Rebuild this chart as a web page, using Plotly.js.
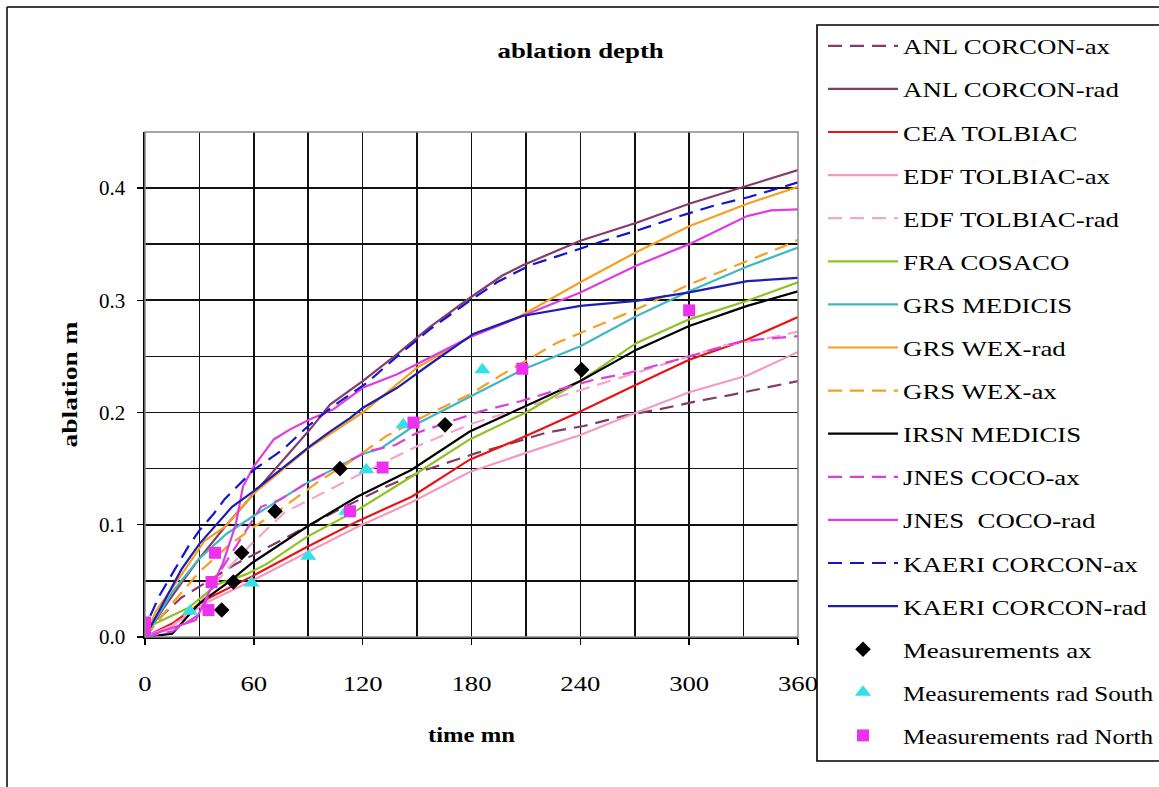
<!DOCTYPE html>
<html>
<head>
<meta charset="utf-8">
<script src="https://cdn.plot.ly/plotly-3.0.1.min.js"></script>
<style>
html,body{margin:0;padding:0;background:#fff;}
#chart{width:1159px;height:787px;}
</style>
</head>
<body>
<div id="chart"></div>
<script>
// ---- data (time in minutes, ablation in m) ----
const anlAxT  = [0, 10, 20, 35, 50, 76, 105, 133, 155, 183, 199, 221, 242, 264, 284, 304, 324, 345, 360];
const anlAxV  = [0, 0.02, 0.035, 0.05, 0.065, 0.087, 0.112, 0.134, 0.149, 0.164, 0.171, 0.182, 0.188, 0.197, 0.203, 0.21, 0.216, 0.223, 0.228];

const anlRadT = [0, 10, 20, 30, 45, 60, 91, 102, 120, 139, 157, 179, 197, 208, 240, 271, 300, 332, 360];
const anlRadV = [0, 0.025, 0.048, 0.07, 0.1, 0.128, 0.185, 0.207, 0.228, 0.252, 0.276, 0.302, 0.322, 0.331, 0.353, 0.369, 0.386, 0.402, 0.416];

const ceaT    = [0, 15, 33, 59, 89, 117, 147, 179, 210, 240, 271, 300, 332, 360];
const ceaV    = [0, 0.012, 0.033, 0.054, 0.08, 0.103, 0.125, 0.158, 0.179, 0.201, 0.225, 0.247, 0.265, 0.285];

const edfAxT  = [0, 15, 33, 59, 89, 117, 147, 179, 210, 240, 271, 300, 332, 360];
const edfAxV  = [0, 0.01, 0.03, 0.05, 0.075, 0.098, 0.12, 0.147, 0.164, 0.18, 0.2, 0.218, 0.233, 0.254];

const edfRadT = [0, 15, 30, 45, 60, 77, 116, 150, 180, 210, 238, 270, 300, 320, 340, 360];
const edfRadV = [0, 0.01, 0.03, 0.06, 0.085, 0.111, 0.143, 0.17, 0.19, 0.205, 0.219, 0.235, 0.25, 0.26, 0.265, 0.272];

const fraT    = [0, 3, 24, 40, 56, 67, 89, 117, 147, 179, 210, 240, 271, 300, 332, 360];
const fraV    = [0, 0.01, 0.026, 0.047, 0.056, 0.065, 0.089, 0.113, 0.143, 0.176, 0.2, 0.228, 0.262, 0.283, 0.2995, 0.316];

const grsMedT = [0, 15, 30, 45, 60, 90, 120, 130, 150, 179, 208, 240, 271, 300, 332, 360];
const grsMedV = [0, 0.04, 0.07, 0.092, 0.108, 0.138, 0.163, 0.168, 0.19, 0.214, 0.238, 0.259, 0.286, 0.308, 0.33, 0.347];

const wexRadT = [0, 6, 19, 33, 44, 60, 90, 120, 150, 180, 207, 240, 271, 300, 332, 360];
const wexRadV = [0, 0.023, 0.053, 0.086, 0.098, 0.128, 0.168, 0.2, 0.24, 0.268, 0.286, 0.316, 0.343, 0.366, 0.386, 0.401];

const wexAxT  = [0, 15, 30, 45, 60, 74, 97, 112, 133, 158, 179, 197, 227, 240, 271, 300, 332, 352, 360];
const wexAxV  = [0, 0.03, 0.058, 0.08, 0.098, 0.113, 0.14, 0.155, 0.179, 0.2, 0.216, 0.234, 0.262, 0.271, 0.292, 0.314, 0.335, 0.348, 0.354];

const irsnT   = [0, 15, 30, 47, 59, 89, 117, 147, 179, 210, 240, 271, 300, 332, 360];
const irsnV   = [0, 0.003, 0.03, 0.05, 0.066, 0.098, 0.125, 0.149, 0.183, 0.206, 0.228, 0.256, 0.277, 0.295, 0.308];

const jnesAxT = [0, 15, 30, 42, 53, 64, 74, 89, 122, 138, 150, 185, 207, 225, 247, 266, 300, 330, 360];
const jnesAxV = [0, 0.005, 0.02, 0.06, 0.088, 0.116, 0.122, 0.137, 0.165, 0.171, 0.182, 0.201, 0.21, 0.219, 0.229, 0.235, 0.25, 0.264, 0.268];

const jnesRadT = [0, 15, 28, 36, 43, 50, 54, 60, 71, 80, 91, 104, 120, 139, 157, 179, 208, 240, 271, 300, 332, 345, 360];
const jnesRadV = [0, 0.008, 0.015, 0.042, 0.066, 0.1, 0.134, 0.152, 0.176, 0.185, 0.194, 0.203, 0.222, 0.234, 0.249, 0.267, 0.286, 0.307, 0.331, 0.35, 0.375, 0.38, 0.381];

const kaeriAxT = [0, 3, 8, 15, 24, 30, 38, 44, 60, 76, 90, 104, 122, 139, 157, 179, 194, 212, 234, 253, 273, 293, 313, 333, 360];
const kaeriAxV = [0, 0.019, 0.037, 0.056, 0.081, 0.095, 0.11, 0.123, 0.149, 0.167, 0.188, 0.206, 0.226, 0.25, 0.274, 0.2995, 0.316, 0.331, 0.343, 0.353, 0.363, 0.374, 0.384, 0.392, 0.405];

const kaeriRadT = [0, 10, 20, 30, 48, 60, 91, 102, 113, 120, 139, 157, 181, 208, 240, 271, 300, 332, 360];
const kaeriRadV = [0, 0.03, 0.06, 0.083, 0.116, 0.13, 0.17, 0.183, 0.195, 0.204, 0.222, 0.243, 0.27, 0.286, 0.295, 0.2995, 0.307, 0.317, 0.32];

const measAxT = [42.3, 48.7, 53.3, 71.7, 107.5, 165.4, 240.7];
const measAxV = [0.024, 0.049, 0.075, 0.112, 0.15, 0.189, 0.238];

const measSouthT = [0, 24.8, 58.8, 90, 111, 122, 142.4, 186];
const measSouthV = [0.005, 0.023, 0.048, 0.072, 0.112, 0.149, 0.189, 0.238];

const measNorthT = [0, 0, 35, 36.7, 38.6, 113, 131, 148, 208, 300];
const measNorthV = [0.004, 0.013, 0.024, 0.049, 0.075, 0.112, 0.151, 0.191, 0.239, 0.291];

const seriesNames = ["ANL CORCON-ax", "ANL CORCON-rad", "CEA TOLBIAC", "EDF TOLBIAC-ax", "EDF TOLBIAC-rad",
  "FRA COSACO", "GRS MEDICIS", "GRS WEX-rad", "GRS WEX-ax", "IRSN MEDICIS", "JNES COCO-ax", "JNES  COCO-rad",
  "KAERI CORCON-ax", "KAERI CORCON-rad", "Measurements ax", "Measurements rad South", "Measurements rad North"];

// ---- styles ----
const DASH = "14px,8px";
const lineSpecs = [
  [anlAxT, anlAxV, "#843C64", DASH],
  [anlRadT, anlRadV, "#843C6C", "solid"],
  [ceaT, ceaV, "#E81414", "solid"],
  [edfAxT, edfAxV, "#F49AC1", "solid"],
  [edfRadT, edfRadV, "#F4A6C8", DASH],
  [fraT, fraV, "#8FC21F", "solid"],
  [grsMedT, grsMedV, "#40B7C4", "solid"],
  [wexRadT, wexRadV, "#F5A020", "solid"],
  [wexAxT, wexAxV, "#F5A020", DASH],
  [irsnT, irsnV, "#000000", "solid"],
  [jnesAxT, jnesAxV, "#DD3FDD", DASH],
  [jnesRadT, jnesRadV, "#E03CE0", "solid"],
  [kaeriAxT, kaeriAxV, "#1414D2", DASH],
  [kaeriRadT, kaeriRadV, "#1E1EB0", "solid"]
];

const traces = [];
lineSpecs.forEach((s, i) => {
  traces.push({
    x: s[0], y: s[1], name: seriesNames[i], type: "scatter", mode: "lines",
    line: {color: s[2], width: 2.2, dash: s[3]},
    legendgroup: "g" + i
  });
});
const markerSpecs = [
  [measAxT, measAxV, "#000000", "diamond", 12],
  [measSouthT, measSouthV, "#33E0EA", "triangle-up", 14],
  [measNorthT, measNorthV, "#F030F0", "square", 12]
];
markerSpecs.forEach((s, j) => {
  traces.push({
    x: s[0], y: s[1], name: seriesNames[14 + j], type: "scatter", mode: "markers",
    marker: {color: s[2], symbol: s[3], size: s[4], line: {width: 0}},
    legendgroup: "g" + (14 + j)
  });
});

// geometry helpers (pixel -> paper)
const W = 1159, H = 787, L = 145, R = 798, T = 132, B = 637;
const px = v => (v - L) / (R - L);
const py = v => (B - v) / (B - T);

const serif = "Liberation Serif, Times New Roman, serif";

const layout = {
  width: W, height: H,
  margin: {l: L, r: W - R, t: T, b: H - B, pad: 0},
  paper_bgcolor: "#ffffff",
  plot_bgcolor: "#ffffff",
  font: {family: serif, color: "#000", size: 21},
  title: {text: "<b>ablation depth</b>", font: {family: serif, size: 22, color: "#000"},
          xref: "container", x: 0.501, xanchor: "center", yref: "container", y: 1 - 50 / H, yanchor: "middle"},
  xaxis: {
    range: [0, 360], dtick: 60, tick0: 0,
    showgrid: true, gridcolor: "#111", gridwidth: 1.6,
    minor: {dtick: 30, showgrid: true, gridcolor: "#111", gridwidth: 1.6, ticks: ""},
    showline: true, linecolor: "#000", linewidth: 1.6,
    ticks: "outside", ticklen: 6, tickcolor: "#000", tickwidth: 1.4,
    ticklabelstandoff: 21,
    zeroline: false,
    tickfont: {family: serif, size: 21, color: "#000"},
    title: {text: "<b>time mn</b>", font: {family: serif, size: 22, color: "#000"}, standoff: 32}
  },
  yaxis: {
    range: [0, 0.4499], dtick: 0.1, tick0: 0, tickformat: ".1f",
    showgrid: true, gridcolor: "#111", gridwidth: 1.6,
    minor: {dtick: 0.05, showgrid: true, gridcolor: "#111", gridwidth: 1.6, ticks: ""},
    showline: true, linecolor: "#000", linewidth: 1.6,
    ticks: "outside", ticklen: 6, tickcolor: "#000", tickwidth: 1.4,
    ticklabelstandoff: 8,
    zeroline: false,
    tickfont: {family: serif, size: 21, color: "#000"},
    title: {text: "<b>ablation m</b>", font: {family: serif, size: 22, color: "#000"}, standoff: 15}
  },
  showlegend: true,
  legend: {
    xref: "container", yref: "container",
    x: 823 / W, y: 1 - 25 / H, xanchor: "left", yanchor: "top",
    bgcolor: "rgba(0,0,0,0)", borderwidth: 0,
    font: {family: serif, size: 22, color: "#000"},
    itemwidth: 70, tracegroupgap: 11.5, traceorder: "grouped",
    maxheight: 780,
    itemclick: false, itemdoubleclick: false
  },
  shapes: [
    // plot area border (grey top/right)
    {type: "rect", xref: "paper", yref: "paper", x0: 0, x1: 1, y0: 0, y1: 1,
     line: {color: "#8a8a8a", width: 1.5}, layer: "above"},
    // legend frame
    {type: "rect", xref: "paper", yref: "paper", x0: px(817), x1: px(1175), y0: py(25), y1: py(761),
     line: {color: "#000", width: 1.6}, fillcolor: "rgba(0,0,0,0)"},
    // outer chart frame
    {type: "line", xref: "paper", yref: "paper", x0: px(7), x1: px(1159), y0: py(7), y1: py(7),
     line: {color: "#000", width: 1.5}},
    {type: "line", xref: "paper", yref: "paper", x0: px(7), x1: px(7), y0: py(7), y1: py(787),
     line: {color: "#000", width: 1.5}}
  ]
};

// widen the glyphs horizontally, as in the (horizontally stretched) original picture
function stretch(selector, factor, maxLen) {
  document.querySelectorAll(selector).forEach(n => {
    const len = n.getComputedTextLength();
    if (len > 0) {
      let target = len * factor;
      if (maxLen && target > maxLen) target = Math.max(len, maxLen);
      n.setAttribute("textLength", target.toFixed(1));
      n.setAttribute("lengthAdjust", "spacingAndGlyphs");
    }
  });
}

Plotly.newPlot("chart", traces, layout, {displayModeBar: false, staticPlot: true}).then(() => {
  stretch(".legendtext", 1.22, 250);
  stretch(".xtick text", 1.27);
  stretch("text.gtitle", 1.22);
  stretch("text.xtitle", 1.12);
  stretch("text.ytitle", 1.25);
  // let the widened legend labels show in full
  document.querySelectorAll(".legend [clip-path]").forEach(e => e.removeAttribute("clip-path"));
});
</script>
</body>
</html>
